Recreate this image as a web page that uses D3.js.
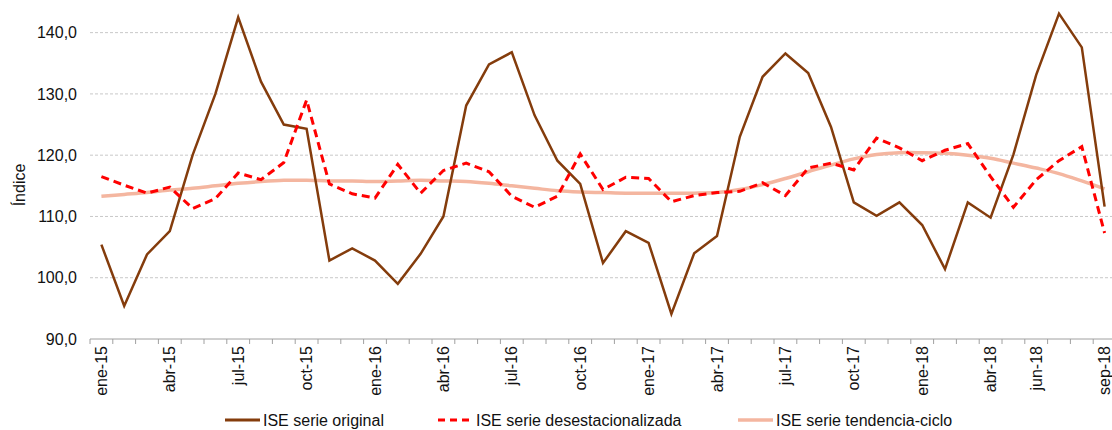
<!DOCTYPE html>
<html>
<head>
<meta charset="utf-8">
<script src="https://cdn.jsdelivr.net/npm/d3@7"></script>
<style>
  body { margin: 0; background: #fff; }
  svg { display: block; font-family: "Liberation Sans", Arial, sans-serif; }
</style>
</head>
<body>
<div id="svg-container"></div>
<script>
////////////////////////////////////////////////////////////////////
////////////////////////////  Data  ////////////////////////////////
const months = [
  "ene-15","feb-15","mar-15","abr-15","may-15","jun-15","jul-15","ago-15","sep-15","oct-15","nov-15","dic-15",
  "ene-16","feb-16","mar-16","abr-16","may-16","jun-16","jul-16","ago-16","sep-16","oct-16","nov-16","dic-16",
  "ene-17","feb-17","mar-17","abr-17","may-17","jun-17","jul-17","ago-17","sep-17","oct-17","nov-17","dic-17",
  "ene-18","feb-18","mar-18","abr-18","may-18","jun-18","jul-18","ago-18","sep-18"
];

// labels shown on the x axis
const tickLabels = [
  "ene-15","abr-15","jul-15","oct-15","ene-16","abr-16","jul-16","oct-16",
  "ene-17","abr-17","jul-17","oct-17","ene-18","abr-18","jun-18","sep-18"
];

const yTicks = [90, 100, 110, 120, 130, 140];

const original = [
  105.4, 95.4, 103.8, 107.6, 120.0, 130.0, 142.5, 132.0, 125.0, 124.3, 102.8, 104.8,
  102.8, 99.0, 103.9, 110.0, 128.1, 134.8, 136.8, 126.5, 119.1, 115.3, 102.4, 107.6,
  105.7, 94.1, 104.0, 106.8, 123.0, 132.8, 136.6, 133.4, 124.6, 112.3, 110.1, 112.3,
  108.6, 101.4, 112.3, 109.8, 120.1, 133.1, 143.1, 137.6, 111.6
];

const desestacionalizada = [
  116.5, 115.1, 113.8, 114.8, 111.3, 112.9, 117.1, 116.0, 118.8, 129.0, 115.3, 113.7,
  113.0, 118.5, 113.8, 117.5, 118.7, 117.3, 113.3, 111.5, 113.3, 120.2, 114.4, 116.4,
  116.2, 112.4, 113.4, 113.9, 114.1, 115.5, 113.4, 117.9, 118.7, 117.6, 122.8, 121.2,
  119.1, 120.8, 121.9, 116.5, 111.5, 116.0, 119.1, 121.4, 107.3
];

const tendencia = [
  113.3, 113.6, 113.9, 114.3, 114.6, 115.0, 115.4, 115.7, 115.9, 115.9, 115.8, 115.8,
  115.7, 115.8, 115.9, 115.8, 115.7, 115.4, 115.0, 114.6, 114.2, 114.0, 113.9, 113.8,
  113.8, 113.8, 113.8, 113.9, 114.4, 115.2, 116.2, 117.3, 118.4, 119.4, 120.1, 120.4,
  120.4, 120.3, 120.0, 119.5, 118.7, 117.9, 117.0, 115.8, 114.5
];

const seriesNames = ["ISE serie original", "ISE serie desestacionalizada", "ISE serie tendencia-ciclo"];

////////////////////////////////////////////////////////////////////
////////////////////////////  Init  ////////////////////////////////
const width = 1112;
const height = 430;
const margin = { top: 2, right: -4, bottom: 91, left: 90 };
const fontSize = "16px";
const textColor = "#111";

const svg = d3.select("#svg-container").append("svg")
  .attr("width", width)
  .attr("height", height);

// scales
const xScale = d3.scaleBand()
  .domain(months)
  .range([margin.left, width - margin.right]);

const yScale = d3.scaleLinear()
  .domain([90, 145])
  .range([height - margin.bottom, margin.top]);

const colors = ["#843c0c", "#ff0000", "#f4b6a0"];

// gridlines
svg.append("g")
  .selectAll("line")
  .data(yTicks.filter((d) => d > 90))
  .join("line")
  .attr("x1", margin.left)
  .attr("x2", width)
  .attr("y1", (d) => yScale(d))
  .attr("y2", (d) => yScale(d))
  .attr("stroke", "#c8c8c8")
  .attr("stroke-width", 1)
  .attr("stroke-dasharray", "3,2");

// y axis labels
svg.append("g")
  .selectAll("text")
  .data(yTicks)
  .join("text")
  .attr("x", 77)
  .attr("y", (d) => yScale(d))
  .attr("dy", "0.35em")
  .attr("text-anchor", "end")
  .style("font-size", fontSize)
  .attr("fill", textColor)
  .text((d) => d3.format(".1f")(d).replace(".", ","));

svg.append("text")
  .attr("transform", `translate(25,185) rotate(-90)`)
  .attr("text-anchor", "middle")
  .style("font-size", fontSize)
  .attr("fill", textColor)
  .text("Índice");

// x axis line + boundary ticks
const xAxisY = yScale(90);
svg.append("line")
  .attr("x1", margin.left)
  .attr("x2", width)
  .attr("y1", xAxisY)
  .attr("y2", xAxisY)
  .attr("stroke", "#a0a0a0")
  .attr("stroke-width", 1);

svg.append("g")
  .selectAll("line")
  .data(months)
  .join("line")
  .attr("x1", (d) => xScale(d))
  .attr("x2", (d) => xScale(d))
  .attr("y1", xAxisY)
  .attr("y2", xAxisY + 5)
  .attr("stroke", "#a0a0a0")
  .attr("stroke-width", 1);

// x labels (rotated)
svg.append("g")
  .selectAll("text")
  .data(tickLabels)
  .join("text")
  .attr("transform", (d) => `translate(${xScale(d) + xScale.bandwidth() / 2},${xAxisY + 7}) rotate(-90)`)
  .attr("dy", "0.35em")
  .attr("text-anchor", "end")
  .style("font-size", fontSize)
  .attr("fill", textColor)
  .text((d) => d);

// lines
const lineGen = d3.line()
  .x((d, i) => xScale(months[i]) + xScale.bandwidth() / 2)
  .y((d) => yScale(d));

svg.append("path")
  .datum(tendencia)
  .attr("fill", "none")
  .attr("stroke", colors[2])
  .attr("stroke-width", 3.5)
  .attr("d", lineGen.curve(d3.curveCatmullRom));

svg.append("path")
  .datum(original)
  .attr("fill", "none")
  .attr("stroke", colors[0])
  .attr("stroke-width", 2.5)
  .attr("d", lineGen.curve(d3.curveLinear));

svg.append("path")
  .datum(desestacionalizada)
  .attr("fill", "none")
  .attr("stroke", colors[1])
  .attr("stroke-width", 3)
  .attr("stroke-dasharray", "8,5")
  .attr("d", lineGen.curve(d3.curveLinear));

// legend
const legendX = [225, 438, 738];
const legend = svg.append("g")
  .selectAll("g")
  .data(seriesNames)
  .join("g")
  .attr("transform", (d, i) => `translate(${legendX[i]},420)`);

legend.append("line")
  .attr("x1", 0)
  .attr("x2", 35)
  .attr("stroke", (d, i) => colors[i])
  .attr("stroke-width", (d, i) => (i === 2 ? 3.5 : 3))
  .attr("stroke-dasharray", (d, i) => (i === 1 ? "7,5" : null));

legend.append("text")
  .attr("x", 38)
  .attr("dy", "0.35em")
  .style("font-size", fontSize)
  .attr("fill", textColor)
  .text((d) => d);
</script>
</body>
</html>
